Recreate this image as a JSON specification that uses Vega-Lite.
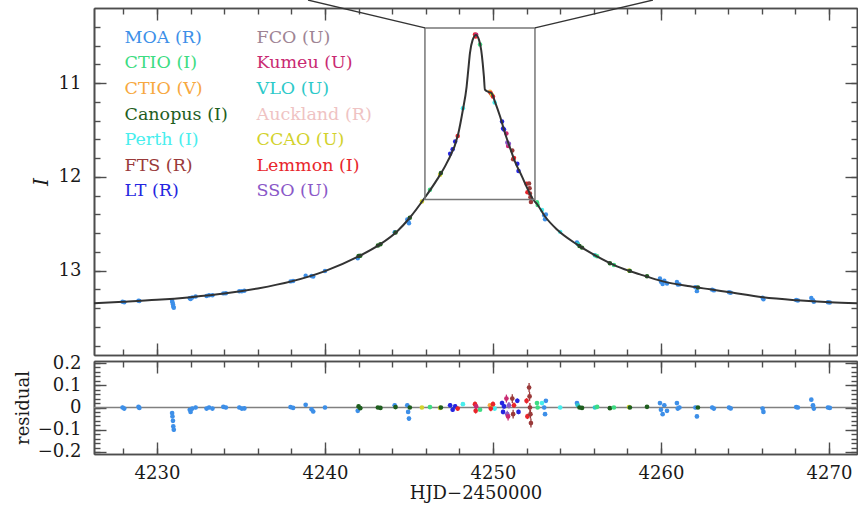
{
"$schema":"https://vega.github.io/schema/vega-lite/v6.json",
"autosize":"none",
"padding":{"left":94,"top":8,"right":1,"bottom":53},
"width":763,"height":446,
"background":"white",
"config":{"view":{"stroke":null},"font":"DejaVu Serif",
 "axis":{"domainColor":"#4d4d4d","domainWidth":1.6,"tickColor":"#4d4d4d","tickWidth":1.4,"grid":false,"labelFont":"DejaVu Serif","labelFontSize":18,"labelColor":"#1a1a1a","titleFont":"DejaVu Serif","titleFontSize":18,"titleFontWeight":"normal","titleColor":"#1a1a1a","labelFlush":false,"labelOverlap":false}},
"datasets":{
 "model":[
{"t":4226.25,"I":13.349},{"t":4228,"I":13.333},{"t":4230,"I":13.312},{"t":4232,"I":13.283},{"t":4234,"I":13.245},{"t":4236,"I":13.19},{"t":4238,"I":13.115},{"t":4240,"I":13.005},{"t":4242,"I":12.849},{"t":4243.27,"I":12.721},{"t":4244.29,"I":12.583},{"t":4245.06,"I":12.434},{"t":4245.95,"I":12.221},{"t":4246.67,"I":12.03},{"t":4247.26,"I":11.849},{"t":4247.92,"I":11.551},{"t":4248.21,"I":11.285},{"t":4248.43,"I":11.04},{"t":4248.53,"I":10.86},{"t":4248.63,"I":10.68},{"t":4248.79,"I":10.54},{"t":4248.99,"I":10.487},{"t":4249.17,"I":10.54},{"t":4249.3,"I":10.65},{"t":4249.39,"I":10.79},{"t":4249.46,"I":10.93},{"t":4249.52,"I":11.07},{"t":4249.72,"I":11.094},{"t":4249.92,"I":11.11},{"t":4250.12,"I":11.2},{"t":4250.42,"I":11.355},{"t":4250.71,"I":11.53},{"t":4251.01,"I":11.689},{"t":4251.31,"I":11.838},{"t":4251.73,"I":11.998},{"t":4252.08,"I":12.136},{"t":4252.38,"I":12.24},{"t":4252.62,"I":12.29},{"t":4253.1,"I":12.423},{"t":4253.81,"I":12.562},{"t":4255,"I":12.721},{"t":4256.19,"I":12.849},{"t":4257.38,"I":12.955},{"t":4258.75,"I":13.04},{"t":4260.12,"I":13.115},{"t":4261.73,"I":13.168},{"t":4262.92,"I":13.2},{"t":4264.11,"I":13.232},{"t":4266.07,"I":13.285},{"t":4268.1,"I":13.317},{"t":4270.06,"I":13.338},{"t":4271.67,"I":13.349}
 ],
 "obs":[
{"t":4227.95,"obs":"MOA (R)","I":13.333,"res":0.0,"err":0.008},
{"t":4228.05,"obs":"MOA (R)","I":13.338,"res":-0.005,"err":0.008},
{"t":4228.9,"obs":"MOA (R)","I":13.321,"res":0.003,"err":0.008},
{"t":4228.95,"obs":"MOA (R)","I":13.325,"res":-0.002,"err":0.008},
{"t":4230.9,"obs":"MOA (R)","I":13.324,"res":-0.025,"err":0.008},
{"t":4230.92,"obs":"MOA (R)","I":13.338,"res":-0.04,"err":0.008},
{"t":4230.95,"obs":"MOA (R)","I":13.358,"res":-0.06,"err":0.008},
{"t":4230.97,"obs":"MOA (R)","I":13.383,"res":-0.085,"err":0.008},
{"t":4231.0,"obs":"MOA (R)","I":13.397,"res":-0.1,"err":0.01},
{"t":4231.95,"obs":"MOA (R)","I":13.294,"res":-0.01,"err":0.008},
{"t":4232.0,"obs":"MOA (R)","I":13.303,"res":-0.02,"err":0.008},
{"t":4232.1,"obs":"MOA (R)","I":13.286,"res":-0.005,"err":0.008},
{"t":4232.3,"obs":"MOA (R)","I":13.277,"res":0.0,"err":0.008},
{"t":4232.95,"obs":"MOA (R)","I":13.27,"res":-0.005,"err":0.008},
{"t":4233.1,"obs":"MOA (R)","I":13.262,"res":0.0,"err":0.008},
{"t":4233.3,"obs":"MOA (R)","I":13.263,"res":-0.005,"err":0.008},
{"t":4233.95,"obs":"MOA (R)","I":13.243,"res":0.003,"err":0.008},
{"t":4234.1,"obs":"MOA (R)","I":13.242,"res":0.0,"err":0.008},
{"t":4234.9,"obs":"MOA (R)","I":13.22,"res":0.0,"err":0.008},
{"t":4235.05,"obs":"MOA (R)","I":13.221,"res":-0.005,"err":0.008},
{"t":4235.2,"obs":"MOA (R)","I":13.216,"res":-0.004,"err":0.008},
{"t":4237.95,"obs":"MOA (R)","I":13.115,"res":0.002,"err":0.008},
{"t":4238.1,"obs":"MOA (R)","I":13.112,"res":-0.002,"err":0.008},
{"t":4238.85,"obs":"MOA (R)","I":13.056,"res":0.012,"err":0.008},
{"t":4239.2,"obs":"MOA (R)","I":13.057,"res":-0.008,"err":0.008},
{"t":4239.3,"obs":"MOA (R)","I":13.062,"res":-0.018,"err":0.008},
{"t":4240.0,"obs":"MOA (R)","I":13.005,"res":0.0,"err":0.008},
{"t":4241.95,"obs":"MOA (R)","I":12.868,"res":-0.015,"err":0.008},
{"t":4242.0,"obs":"Canopus (I)","I":12.844,"res":0.005,"err":0.004},
{"t":4242.1,"obs":"Canopus (I)","I":12.842,"res":-0.003,"err":0.004},
{"t":4243.15,"obs":"Canopus (I)","I":12.733,"res":0.0,"err":0.004},
{"t":4243.3,"obs":"Canopus (I)","I":12.719,"res":-0.002,"err":0.004},
{"t":4244.15,"obs":"MOA (R)","I":12.592,"res":0.01,"err":0.008},
{"t":4244.2,"obs":"Canopus (I)","I":12.593,"res":0.002,"err":0.004},
{"t":4244.9,"obs":"MOA (R)","I":12.455,"res":0.01,"err":0.008},
{"t":4244.95,"obs":"MOA (R)","I":12.475,"res":-0.02,"err":0.008},
{"t":4245.0,"obs":"MOA (R)","I":12.496,"res":-0.05,"err":0.01},
{"t":4245.05,"obs":"Canopus (I)","I":12.436,"res":0.0,"err":0.004},
{"t":4245.77,"obs":"CCAO (U)","I":12.264,"res":0.0,"err":0.006},
{"t":4246.25,"obs":"CTIO (I)","I":12.139,"res":0.002,"err":0.005},
{"t":4246.85,"obs":"CCAO (U)","I":11.977,"res":-0.002,"err":0.006},
{"t":4246.9,"obs":"Canopus (I)","I":11.959,"res":0.0,"err":0.004},
{"t":4247.45,"obs":"LT (R)","I":11.753,"res":0.01,"err":0.01},
{"t":4247.6,"obs":"LT (R)","I":11.705,"res":-0.01,"err":0.01},
{"t":4247.75,"obs":"LT (R)","I":11.623,"res":0.005,"err":0.01},
{"t":4247.9,"obs":"Lemmon (I)","I":11.565,"res":-0.005,"err":0.01},
{"t":4248.21,"obs":"Perth (I)","I":11.27,"res":0.015,"err":0.008},
{"t":4248.93,"obs":"Lemmon (I)","I":10.483,"res":0.015,"err":0.012},
{"t":4248.97,"obs":"Lemmon (I)","I":10.505,"res":-0.015,"err":0.012},
{"t":4249.0,"obs":"Kumeu (U)","I":10.485,"res":0.005,"err":0.012},
{"t":4249.23,"obs":"CTIO (I)","I":10.59,"res":-0.01,"err":0.005},
{"t":4249.82,"obs":"CTIO (V)","I":11.092,"res":0.01,"err":0.006},
{"t":4249.87,"obs":"Lemmon (I)","I":11.109,"res":-0.005,"err":0.012},
{"t":4249.93,"obs":"CCAO (U)","I":11.126,"res":0.0,"err":0.006},
{"t":4250.0,"obs":"Lemmon (I)","I":11.143,"res":0.015,"err":0.012},
{"t":4250.1,"obs":"Perth (I)","I":11.207,"res":-0.005,"err":0.008},
{"t":4250.54,"obs":"LT (R)","I":11.41,"res":0.02,"err":0.01},
{"t":4250.6,"obs":"LT (R)","I":11.486,"res":-0.02,"err":0.01},
{"t":4250.66,"obs":"LT (R)","I":11.496,"res":0.005,"err":0.01},
{"t":4250.8,"obs":"Kumeu (U)","I":11.538,"res":0.04,"err":0.018},
{"t":4250.85,"obs":"SSO (U)","I":11.634,"res":-0.03,"err":0.015},
{"t":4250.9,"obs":"Kumeu (U)","I":11.671,"res":-0.04,"err":0.018},
{"t":4250.95,"obs":"SSO (U)","I":11.647,"res":0.01,"err":0.015},
{"t":4251.15,"obs":"FTS (R)","I":11.719,"res":0.04,"err":0.02},
{"t":4251.2,"obs":"FTS (R)","I":11.813,"res":-0.03,"err":0.02},
{"t":4251.25,"obs":"Lemmon (I)","I":11.798,"res":0.01,"err":0.012},
{"t":4251.45,"obs":"LT (R)","I":11.861,"res":0.03,"err":0.01},
{"t":4251.52,"obs":"LT (R)","I":11.938,"res":-0.02,"err":0.01},
{"t":4252.0,"obs":"Lemmon (I)","I":12.074,"res":0.03,"err":0.012},
{"t":4252.05,"obs":"Lemmon (I)","I":12.164,"res":-0.04,"err":0.012},
{"t":4252.15,"obs":"FTS (R)","I":12.07,"res":0.09,"err":0.02},
{"t":4252.18,"obs":"FTS (R)","I":12.121,"res":0.05,"err":0.02},
{"t":4252.2,"obs":"FTS (R)","I":12.178,"res":0.0,"err":0.02},
{"t":4252.23,"obs":"FTS (R)","I":12.218,"res":-0.03,"err":0.02},
{"t":4252.26,"obs":"FTS (R)","I":12.268,"res":-0.07,"err":0.02},
{"t":4252.62,"obs":"CTIO (I)","I":12.27,"res":0.02,"err":0.005},
{"t":4252.66,"obs":"CTIO (I)","I":12.301,"res":0.0,"err":0.005},
{"t":4252.92,"obs":"Perth (I)","I":12.353,"res":0.02,"err":0.008},
{"t":4253.05,"obs":"MOA (R)","I":12.409,"res":0.0,"err":0.008},
{"t":4253.1,"obs":"MOA (R)","I":12.453,"res":-0.03,"err":0.008},
{"t":4253.15,"obs":"MOA (R)","I":12.403,"res":0.03,"err":0.008},
{"t":4254.0,"obs":"Perth (I)","I":12.587,"res":0.0,"err":0.008},
{"t":4255.0,"obs":"MOA (R)","I":12.701,"res":0.02,"err":0.008},
{"t":4255.05,"obs":"VLO (U)","I":12.716,"res":0.01,"err":0.006},
{"t":4255.15,"obs":"Canopus (I)","I":12.737,"res":0.0,"err":0.004},
{"t":4255.3,"obs":"Canopus (I)","I":12.755,"res":-0.002,"err":0.004},
{"t":4256.07,"obs":"VLO (U)","I":12.836,"res":0.0,"err":0.006},
{"t":4256.2,"obs":"CTIO (I)","I":12.847,"res":0.003,"err":0.005},
{"t":4256.96,"obs":"Canopus (I)","I":12.921,"res":-0.003,"err":0.004},
{"t":4257.2,"obs":"CTIO (I)","I":12.94,"res":0.0,"err":0.005},
{"t":4258.1,"obs":"CCAO (U)","I":12.998,"res":0.002,"err":0.006},
{"t":4258.15,"obs":"Canopus (I)","I":13.003,"res":0.0,"err":0.004},
{"t":4259.17,"obs":"Canopus (I)","I":13.06,"res":0.003,"err":0.004},
{"t":4259.94,"obs":"MOA (R)","I":13.085,"res":0.02,"err":0.008},
{"t":4260.0,"obs":"MOA (R)","I":13.118,"res":-0.01,"err":0.008},
{"t":4260.1,"obs":"MOA (R)","I":13.144,"res":-0.03,"err":0.008},
{"t":4260.2,"obs":"MOA (R)","I":13.108,"res":0.01,"err":0.008},
{"t":4260.36,"obs":"MOA (R)","I":13.138,"res":-0.015,"err":0.008},
{"t":4260.95,"obs":"MOA (R)","I":13.122,"res":0.02,"err":0.008},
{"t":4261.0,"obs":"MOA (R)","I":13.149,"res":-0.005,"err":0.008},
{"t":4261.1,"obs":"MOA (R)","I":13.147,"res":0.0,"err":0.008},
{"t":4262.05,"obs":"MOA (R)","I":13.177,"res":0.0,"err":0.008},
{"t":4262.14,"obs":"MOA (R)","I":13.219,"res":-0.04,"err":0.008},
{"t":4262.2,"obs":"Canopus (I)","I":13.181,"res":0.0,"err":0.004},
{"t":4263.05,"obs":"MOA (R)","I":13.203,"res":0.0,"err":0.008},
{"t":4263.15,"obs":"MOA (R)","I":13.211,"res":-0.005,"err":0.008},
{"t":4264.05,"obs":"MOA (R)","I":13.23,"res":0.0,"err":0.008},
{"t":4264.15,"obs":"MOA (R)","I":13.237,"res":-0.004,"err":0.008},
{"t":4266.05,"obs":"MOA (R)","I":13.289,"res":-0.005,"err":0.008},
{"t":4266.1,"obs":"MOA (R)","I":13.305,"res":-0.02,"err":0.008},
{"t":4268.05,"obs":"MOA (R)","I":13.314,"res":0.002,"err":0.008},
{"t":4268.15,"obs":"MOA (R)","I":13.318,"res":0.0,"err":0.008},
{"t":4268.95,"obs":"MOA (R)","I":13.291,"res":0.035,"err":0.008},
{"t":4269.05,"obs":"MOA (R)","I":13.317,"res":0.01,"err":0.008},
{"t":4269.1,"obs":"MOA (R)","I":13.332,"res":-0.005,"err":0.008},
{"t":4269.94,"obs":"MOA (R)","I":13.337,"res":0.0,"err":0.008},
{"t":4270.05,"obs":"MOA (R)","I":13.34,"res":-0.002,"err":0.008}
 ],
 "box":[{"x1":4245.95,"x2":4252.5,"y1":10.413,"y2":12.243}],
 "conn":[{"xa":4245.95,"ya":10.413,"xb":4238.99,"yb":10.115},{"xa":4252.5,"ya":10.413,"xb":4259.52,"yb":10.115}]
},
"resolve":{"scale":{"y":"independent"},"axis":{"x":"independent","y":"independent"}},
"layer":[
 {"resolve":{"axis":{"x":"independent","y":"independent"}},
  "layer":[
   {"data":{"name":"obs"},"mark":{"type":"circle","size":20,"opacity":1},
    "encoding":{
     "x":{"field":"t","type":"quantitative","scale":{"domain":[4226.25,4271.67],"nice":false,"zero":false},"axis":{"orient":"top","values":[4228,4230,4232,4234,4236,4238,4240,4242,4244,4246,4248,4250,4252,4254,4256,4258,4260,4262,4264,4266,4268,4270],"tickSize":-6,"labels":false,"title":null}},
     "y":{"field":"I","type":"quantitative","scale":{"domain":[10.2,13.9],"range":[0,347],"nice":false,"zero":false},"axis":{"orient":"left","values":[10.4,10.6,10.8,11,11.2,11.4,11.6,11.8,12,12.2,12.4,12.6,12.8,13,13.2,13.4,13.6,13.8],"tickSize":-6,"labels":false,"title":null}},
     "color":{"field":"obs","type":"nominal",
      "scale":{"domain":["MOA (R)","CTIO (I)","CTIO (V)","Canopus (I)","Perth (I)","FTS (R)","LT (R)","FCO (U)","Kumeu (U)","VLO (U)","Auckland (R)","CCAO (U)","Lemmon (I)","SSO (U)"],"range":["#3d8fe8","#3ddc82","#f7a840","#1e5e1e","#48eeee","#9a3a3a","#2525e0","#9e8494","#c92a72","#2cc9c9","#efc3c3","#d2d22c","#e8252b","#8a58c8"]},
      "legend":{"orient":"none","legendX":13,"legendY":21,"columns":2,"title":null,"symbolSize":0,"symbolStrokeWidth":0,"symbolOpacity":0,"labelOffset":0,"labelFont":"DejaVu Serif","labelFontSize":17.5,"rowPadding":6.6,"columnPadding":11,"labelLimit":300,"labelColor":{"expr":"scale('color', datum.value)"}}}
    }},
   {"data":{"name":"model"},"mark":{"type":"line","color":"#333333","strokeWidth":2,"interpolate":"monotone"},
    "encoding":{
     "x":{"field":"t","type":"quantitative","scale":{"domain":[4226.25,4271.67],"nice":false,"zero":false},"axis":{"orient":"top","values":[4230,4240,4250,4260,4270],"tickSize":-12,"labels":false,"title":null}},
     "y":{"field":"I","type":"quantitative","scale":{"domain":[10.2,13.9],"range":[0,347],"nice":false,"zero":false},"axis":{"orient":"left","values":[11,12,13],"tickSize":-12,"labelPadding":25,"format":"d","title":"I","titleFontStyle":"italic","titleFontSize":20,"titlePadding":7}}
    }},
   {"data":{"name":"box"},"mark":{"type":"rect","fillOpacity":0,"stroke":"#777777","strokeWidth":1.5},
    "encoding":{
     "x":{"field":"x1","type":"quantitative","scale":{"domain":[4226.25,4271.67],"nice":false,"zero":false},"axis":{"orient":"bottom","offset":-99,"values":[4230,4240,4250,4260,4270],"tickSize":-12,"labels":false,"title":null}},
     "x2":{"field":"x2"},
     "y":{"field":"y1","type":"quantitative","scale":{"domain":[10.2,13.9],"range":[0,347],"nice":false,"zero":false},"axis":{"orient":"right","values":[11,12,13],"tickSize":-12,"labels":false,"title":null}},
     "y2":{"field":"y2"}
    }},
   {"data":{"name":"conn"},"mark":{"type":"rule","color":"#333333","strokeWidth":1.3,"clip":false},
    "encoding":{
     "x":{"field":"xa","type":"quantitative","scale":{"domain":[4226.25,4271.67],"nice":false,"zero":false},"axis":{"orient":"bottom","offset":-99,"values":[4228,4230,4232,4234,4236,4238,4240,4242,4244,4246,4248,4250,4252,4254,4256,4258,4260,4262,4264,4266,4268,4270],"tickSize":-6,"labels":false,"title":null}},
     "x2":{"field":"xb"},
     "y":{"field":"ya","type":"quantitative","scale":{"domain":[10.2,13.9],"range":[0,347],"nice":false,"zero":false},"axis":{"orient":"right","values":[10.4,10.6,10.8,11,11.2,11.4,11.6,11.8,12,12.2,12.4,12.6,12.8,13,13.2,13.4,13.6,13.8],"tickSize":-6,"labels":false,"title":null}},
     "y2":{"field":"yb"}
    }}
  ]},
 {"resolve":{"axis":{"x":"independent","y":"independent"}},
  "layer":[
   {"data":{"values":[{}]},"mark":{"type":"rule","color":"#808080","strokeWidth":1.5},
    "encoding":{
     "x":{"datum":4226.25,"type":"quantitative","scale":{"domain":[4226.25,4271.67],"nice":false,"zero":false},"axis":{"orient":"bottom","offset":-93,"values":[4228,4230,4232,4234,4236,4238,4240,4242,4244,4246,4248,4250,4252,4254,4256,4258,4260,4262,4264,4266,4268,4270],"tickSize":6,"labels":false,"title":null}},
     "x2":{"datum":4271.67},
     "y":{"datum":0,"type":"quantitative","scale":{"domain":[-0.209,0.209],"range":[446,353],"nice":false,"zero":false},"axis":{"orient":"left","values":[-0.2,-0.1,0,0.1,0.2],"tickSize":-12,"labelPadding":25,"format":".1~f","title":"residual","titlePadding":5}}
    }},
   {"data":{"name":"obs"},"mark":{"type":"errorbar","ticks":false,"thickness":1.3},
    "encoding":{
     "x":{"field":"t","type":"quantitative","scale":{"domain":[4226.25,4271.67],"nice":false,"zero":false},"axis":null},
     "y":{"field":"res","type":"quantitative","scale":{"domain":[-0.209,0.209],"range":[446,353],"nice":false,"zero":false},"axis":null},
     "yError":{"field":"err"},
     "color":{"field":"obs","type":"nominal","scale":{"domain":["MOA (R)","CTIO (I)","CTIO (V)","Canopus (I)","Perth (I)","FTS (R)","LT (R)","FCO (U)","Kumeu (U)","VLO (U)","Auckland (R)","CCAO (U)","Lemmon (I)","SSO (U)"],"range":["#3d8fe8","#3ddc82","#f7a840","#1e5e1e","#48eeee","#9a3a3a","#2525e0","#9e8494","#c92a72","#2cc9c9","#efc3c3","#d2d22c","#e8252b","#8a58c8"]},"legend":null}
    }},
   {"data":{"name":"obs"},"transform":[{"filter":{"field":"obs","equal":"MOA (R)"}}],"mark":{"type":"circle","size":22,"opacity":1},
    "encoding":{
     "x":{"field":"t","type":"quantitative","scale":{"domain":[4226.25,4271.67],"nice":false,"zero":false},"axis":{"orient":"bottom","values":[4230,4240,4250,4260,4270],"tickSize":-12,"labelPadding":22,"format":"d","title":"HJD\u22122450000","titlePadding":2}},
     "y":{"field":"res","type":"quantitative","scale":{"domain":[-0.209,0.209],"range":[446,353],"nice":false,"zero":false},"axis":{"orient":"left","values":[-0.2,-0.18,-0.16,-0.14,-0.12,-0.1,-0.08,-0.06,-0.04,-0.02,0,0.02,0.04,0.06,0.08,0.1,0.12,0.14,0.16,0.18,0.2],"tickSize":-6,"labels":false,"title":null}},
     "color":{"field":"obs","type":"nominal","scale":{"domain":["MOA (R)","CTIO (I)","CTIO (V)","Canopus (I)","Perth (I)","FTS (R)","LT (R)","FCO (U)","Kumeu (U)","VLO (U)","Auckland (R)","CCAO (U)","Lemmon (I)","SSO (U)"],"range":["#3d8fe8","#3ddc82","#f7a840","#1e5e1e","#48eeee","#9a3a3a","#2525e0","#9e8494","#c92a72","#2cc9c9","#efc3c3","#d2d22c","#e8252b","#8a58c8"]},"legend":null}
    }},
   {"data":{"name":"obs"},"transform":[{"filter":{"field":"obs","oneOf":["Canopus (I)","CTIO (I)","CTIO (V)","CCAO (U)","VLO (U)","Perth (I)"]}}],"mark":{"type":"circle","size":22,"opacity":1},
    "encoding":{
     "x":{"field":"t","type":"quantitative","scale":{"domain":[4226.25,4271.67],"nice":false,"zero":false},"axis":{"orient":"bottom","values":[4228,4230,4232,4234,4236,4238,4240,4242,4244,4246,4248,4250,4252,4254,4256,4258,4260,4262,4264,4266,4268,4270],"tickSize":-6,"labels":false,"title":null}},
     "y":{"field":"res","type":"quantitative","scale":{"domain":[-0.209,0.209],"range":[446,353],"nice":false,"zero":false},"axis":{"orient":"right","values":[-0.2,-0.1,0,0.1,0.2],"tickSize":-12,"labels":false,"title":null}},
     "color":{"field":"obs","type":"nominal","scale":{"domain":["MOA (R)","CTIO (I)","CTIO (V)","Canopus (I)","Perth (I)","FTS (R)","LT (R)","FCO (U)","Kumeu (U)","VLO (U)","Auckland (R)","CCAO (U)","Lemmon (I)","SSO (U)"],"range":["#3d8fe8","#3ddc82","#f7a840","#1e5e1e","#48eeee","#9a3a3a","#2525e0","#9e8494","#c92a72","#2cc9c9","#efc3c3","#d2d22c","#e8252b","#8a58c8"]},"legend":null}
    }},
   {"data":{"name":"obs"},"transform":[{"filter":{"field":"obs","oneOf":["LT (R)","Lemmon (I)","FTS (R)","Kumeu (U)","SSO (U)"]}}],"mark":{"type":"circle","size":22,"opacity":1},
    "encoding":{
     "x":{"field":"t","type":"quantitative","scale":{"domain":[4226.25,4271.67],"nice":false,"zero":false},"axis":{"orient":"bottom","offset":-93,"values":[4230,4240,4250,4260,4270],"tickSize":12,"labels":false,"title":null}},
     "y":{"field":"res","type":"quantitative","scale":{"domain":[-0.209,0.209],"range":[446,353],"nice":false,"zero":false},"axis":{"orient":"right","values":[-0.2,-0.18,-0.16,-0.14,-0.12,-0.1,-0.08,-0.06,-0.04,-0.02,0,0.02,0.04,0.06,0.08,0.1,0.12,0.14,0.16,0.18,0.2],"tickSize":-6,"labels":false,"title":null}},
     "color":{"field":"obs","type":"nominal","scale":{"domain":["MOA (R)","CTIO (I)","CTIO (V)","Canopus (I)","Perth (I)","FTS (R)","LT (R)","FCO (U)","Kumeu (U)","VLO (U)","Auckland (R)","CCAO (U)","Lemmon (I)","SSO (U)"],"range":["#3d8fe8","#3ddc82","#f7a840","#1e5e1e","#48eeee","#9a3a3a","#2525e0","#9e8494","#c92a72","#2cc9c9","#efc3c3","#d2d22c","#e8252b","#8a58c8"]},"legend":null}
    }}
  ]}
]
}
